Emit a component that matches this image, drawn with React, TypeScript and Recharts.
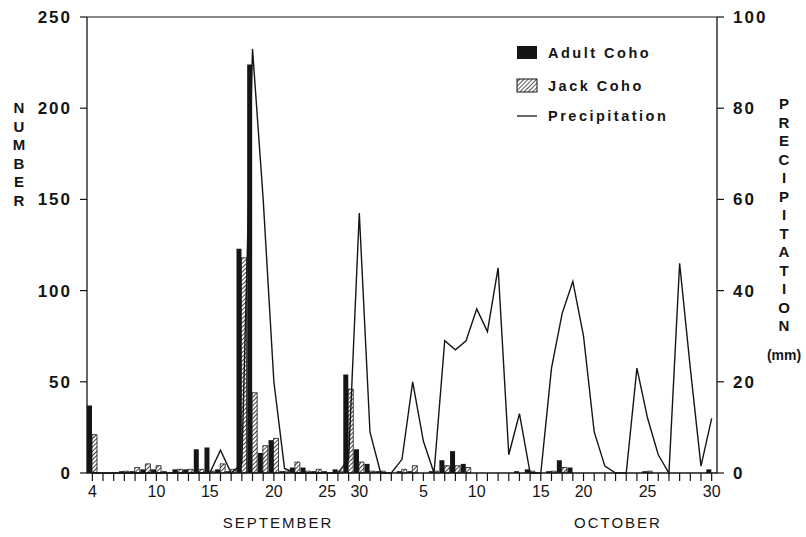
import { Bar, ComposedChart, Legend, Line, ReferenceLine, XAxis, YAxis } from "recharts";

const FONT = '"Liberation Sans", Arial, Helvetica, sans-serif';
const INK = "#151515";

// one slot per day, Sep 4 .. end of Oct
const tickLabels = ["4", "10", "15", "20", "25", "30", "5", "10", "15", "20", "25", "30"];
const tickSlots = [0, 6, 11, 17, 22, 25, 31, 36, 42, 46, 52, 58];

const adultCoho = [
  37, 0, 0, 1, 1, 2, 2, 1, 2, 2, 13, 14, 2, 1, 123, 224, 11, 18, 1, 3,
  3, 1, 1, 2, 54, 13, 5, 1, 0, 1, 1, 0, 1, 7, 12, 5, 0, 0, 0, 0,
  1, 2, 0, 1, 7, 3, 0, 0, 0, 0, 0, 0, 1, 0, 0, 0, 0, 0, 2
];

const jackCoho = [
  21, 0, 0, 1, 3, 5, 4, 0, 2, 2, 2, 1, 5, 2, 118, 44, 15, 19, 1, 6,
  1, 2, 0, 1, 46, 6, 1, 1, 0, 2, 4, 0, 1, 4, 4, 3, 0, 0, 0, 0,
  0, 1, 0, 1, 3, 0, 0, 0, 0, 0, 0, 0, 1, 0, 0, 0, 0, 0, 0
];

const precipitation = [
  0, 0, 0, 0, 0, 0, 0, 0, 0, 0, 0, 0, 5, 0, 2, 93, 60, 20, 1, 0,
  0, 0, 0, 0, 3, 57, 9, 0, 0, 3, 20, 7, 0, 29, 27, 29, 36, 31, 45, 4,
  13, 0, 0, 23, 35, 42, 30, 9, 1.5, 0, 0, 23, 12, 4, 0, 46, 23, 1.5, 12
];

const numberTicks = [0, 50, 100, 150, 200, 250];
const precipTicks = [0, 20, 40, 60, 80, 100];

function StackedTitle({ text, x, y, step }: { text: string; x: number; y: number; step: number }) {
  return (
    <>
      {text.split("").map((ch, i) => (
        <div
          key={i}
          style={{
            position: "absolute",
            left: x - 10,
            top: y + i * step - 9,
            width: 20,
            height: 18,
            lineHeight: "18px",
            textAlign: "center",
            fontSize: 15,
            fontWeight: 700,
            color: INK
          }}
        >
          {ch}
        </div>
      ))}
    </>
  );
}

function LegendBox() {
  const rows = [
    { label: "Adult Coho", kind: "adult", h: 35 },
    { label: "Jack Coho", kind: "jack", h: 31 },
    { label: "Precipitation", kind: "line", h: 30 }
  ];
  return (
    <div style={{ fontFamily: FONT }}>
      {rows.map((row) => (
        <div key={row.label} style={{ display: "flex", alignItems: "center", height: row.h }}>
          <svg width={22} height={16} style={{ marginRight: 10 }}>
            <defs>
              <pattern id="legendHatch" patternUnits="userSpaceOnUse" width={3} height={3} patternTransform="rotate(45)">
                <rect width={3} height={3} fill="#fff" />
                <line x1={0} y1={0} x2={0} y2={3} stroke={INK} strokeWidth={1.4} />
              </pattern>
            </defs>
            {row.kind === "adult" && <rect x={1} y={1} width={20} height={13} fill={INK} />}
            {row.kind === "jack" && (
              <rect x={1} y={1} width={20} height={13} fill="url(#legendHatch)" stroke={INK} strokeWidth={1} />
            )}
            {row.kind === "line" && <line x1={1} y1={8} x2={21} y2={8} stroke={INK} strokeWidth={1.3} />}
          </svg>
          <span style={{ fontSize: 14.5, fontWeight: 700, letterSpacing: 2.5, color: INK }}>{row.label}</span>
        </div>
      ))}
    </div>
  );
}

export default function App() {
  const data = adultCoho.map((adult, i) => ({
    day: i,
    adult,
    jack: jackCoho[i],
    precip: precipitation[i]
  }));

  const dayLabel = (value: number) => {
    const k = tickSlots.indexOf(value);
    return k >= 0 ? tickLabels[k] : "";
  };

  return (
    <div
      style={{
        position: "absolute",
        left: 0,
        top: 0,
        width: 806,
        height: 537,
        background: "#fff",
        fontFamily: FONT
      }}
    >
      <ComposedChart
        width={806}
        height={537}
        data={data}
        margin={{ top: 17, right: 0, bottom: 34, left: 0 }}
        barGap={0}
        barCategoryGap={0}
        style={{ fontFamily: FONT }}
      >
        <defs>
          <pattern id="jackHatch" patternUnits="userSpaceOnUse" width={3} height={3} patternTransform="rotate(45)">
            <rect width={3} height={3} fill="#fff" />
            <line x1={0} y1={0} x2={0} y2={3} stroke={INK} strokeWidth={1.6} />
          </pattern>
        </defs>
        <XAxis
          dataKey="day"
          type="category"
          interval={0}
          tickFormatter={dayLabel}
          height={30}
          tickSize={8}
          tickMargin={5}
          axisLine={{ stroke: INK, strokeWidth: 1.3 }}
          tickLine={{ stroke: INK, strokeWidth: 1.2 }}
          tick={{ fontSize: 16, fill: INK }}
        />
        <YAxis
          yAxisId="left"
          domain={[0, 250]}
          ticks={numberTicks}
          width={87}
          tickSize={7}
          tickMargin={8}
          axisLine={{ stroke: INK, strokeWidth: 1.3 }}
          tickLine={{ stroke: INK, strokeWidth: 1.2 }}
          tick={{ fontSize: 17, fontWeight: 700, fill: INK, letterSpacing: 2 }}
        />
        <YAxis
          yAxisId="right"
          orientation="right"
          domain={[0, 100]}
          ticks={precipTicks}
          width={89}
          tickSize={7}
          tickMargin={9}
          axisLine={{ stroke: INK, strokeWidth: 1.3 }}
          tickLine={{ stroke: INK, strokeWidth: 1.2 }}
          tick={{ fontSize: 17, fontWeight: 700, fill: INK, letterSpacing: 2 }}
        />
        <ReferenceLine yAxisId="left" y={250} stroke={INK} strokeWidth={1.2} />
        <Bar yAxisId="left" dataKey="adult" fill={INK} barSize={5} isAnimationActive={false} />
        <Bar
          yAxisId="left"
          dataKey="jack"
          fill="url(#jackHatch)"
          stroke={INK}
          strokeWidth={0.8}
          barSize={5}
          isAnimationActive={false}
        />
        <Line
          yAxisId="right"
          dataKey="precip"
          type="linear"
          stroke={INK}
          strokeWidth={1.4}
          dot={false}
          isAnimationActive={false}
        />
        <Legend
          layout="vertical"
          align="center"
          verticalAlign="middle"
          content={() => <LegendBox />}
          wrapperStyle={{ left: 516, top: 35, width: 220 }}
        />
      </ComposedChart>

      <StackedTitle text="NUMBER" x={19} y={108} step={18.5} />
      <StackedTitle text="PRECIPITATION" x={784} y={104} step={18.5} />
      <div
        style={{
          position: "absolute",
          left: 754,
          top: 347,
          width: 60,
          textAlign: "center",
          fontSize: 14,
          fontWeight: 700,
          color: INK
        }}
      >
        (mm)
      </div>
      <div style={{ position: "absolute", left: 200, top: 514, width: 156, textAlign: "center", fontSize: 15, letterSpacing: 2, color: INK }}>
        SEPTEMBER
      </div>
      <div style={{ position: "absolute", left: 540, top: 514, width: 156, textAlign: "center", fontSize: 15, letterSpacing: 2, color: INK }}>
        OCTOBER
      </div>
    </div>
  );
}
